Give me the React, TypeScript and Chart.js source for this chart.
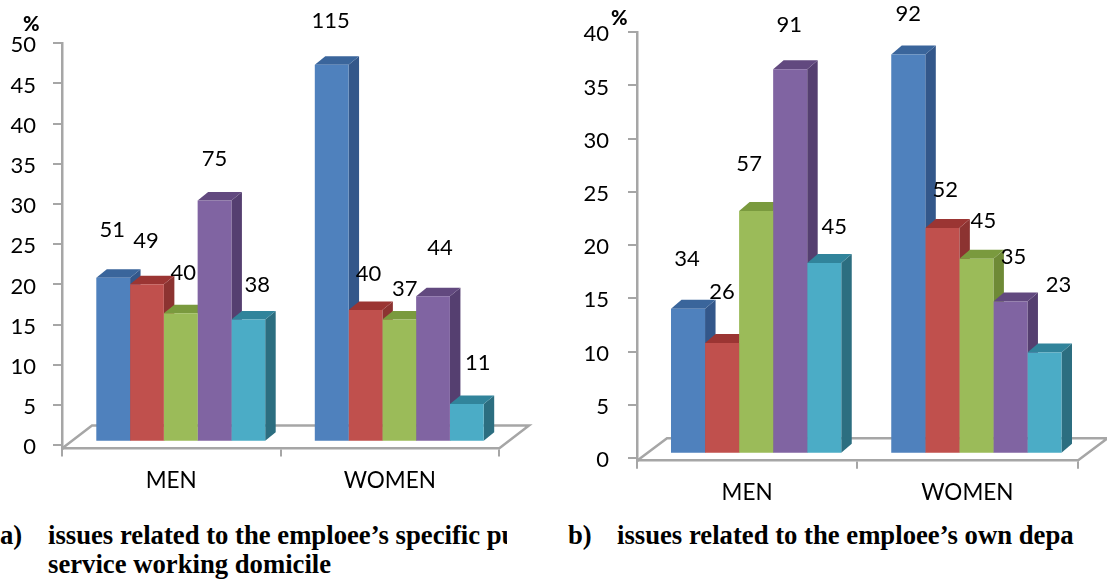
import React, { useEffect, useRef } from "react";
import { Chart, registerables } from "chart.js";

Chart.register(...registerables);

const categories = ["MEN", "WOMEN"];
const yTicksA = [0, 5, 10, 15, 20, 25, 30, 35, 40, 45, 50];
const yTicksB = [0, 5, 10, 15, 20, 25, 30, 35, 40];

const seriesA1 = [20.4, 46.9];
const seriesA2 = [19.6, 16.4];
const seriesA3 = [16.0, 15.2];
const seriesA4 = [30.0, 18.1];
const seriesA5 = [15.2, 4.7];

const seriesB1 = [13.6, 37.5];
const seriesB2 = [10.4, 21.2];
const seriesB3 = [22.8, 18.3];
const seriesB4 = [36.1, 14.3];
const seriesB5 = [17.9, 9.5];

const countsA = [[51, 115], [49, 40], [40, 37], [75, 44], [38, 11]];
const countsB = [[34, 92], [26, 52], [57, 45], [91, 35], [45, 23]];

const frontColors = ["#4f81bd", "#c0504d", "#9bbb59", "#8064a2", "#4bacc6"];
const topColors = ["#3a659b", "#9b3533", "#7a9a3e", "#62497f", "#31849b"];
const sideColors = ["#33578a", "#8c3331", "#6e8a36", "#553f70", "#2c6e80"];
const GRAY = "#a6a6a6";
const FONT = "Lato";

type Cfg = {
  series: number[][];
  counts: number[][];
  ticks: number[];
  yMin: number;
  yMax: number;
  width: number;
  height: number;
  axisWidth: number;
  padTop: number;
  padRight: number;
  axisBottom: number;
  tickPad: number;
  barShift: [number, number];
  depth: [number, number];
  floor: [number, number];
  labelGap: number;
  nudges: [number, number][][];
};

const cfgA: Cfg = {
  series: [seriesA1, seriesA2, seriesA3, seriesA4, seriesA5],
  counts: countsA,
  ticks: yTicksA,
  yMin: -0.4,
  yMax: 50,
  width: 540,
  height: 520,
  axisWidth: 62,
  padTop: 43.3,
  padRight: 41,
  axisBottom: 448.5,
  tickPad: 17,
  barShift: [9.5, -3.5],
  depth: [10.5, -8.5],
  floor: [30, -23],
  labelGap: 42,
  nudges: [
    [[-1, -6], [-1, -2]],
    [[-1, -1], [3, 6]],
    [[2.5, 2], [5.5, 11]],
    [[0, 0], [7, -6]],
    [[9, 7], [11, 1]],
  ],
};

const cfgB: Cfg = {
  series: [seriesB1, seriesB2, seriesB3, seriesB4, seriesB5],
  counts: countsB,
  ticks: yTicksB,
  yMin: -0.25,
  yMax: 40,
  width: 567,
  height: 520,
  axisWidth: 97,
  padTop: 32,
  padRight: 29.5,
  axisBottom: 460.7,
  tickPad: 19,
  barShift: [9, -4.4],
  depth: [10.5, -9],
  floor: [30, -22.5],
  labelGap: 42,
  nudges: [
    [[-1, -8], [0, 1]],
    [[0, -9], [3, 4]],
    [[-7, -5], [7, 4]],
    [[-1, -2], [3, -2]],
    [[10, 6], [14, -26]],
  ],
};

function poly(ctx: CanvasRenderingContext2D, pts: number[][], fill: string) {
  ctx.beginPath();
  pts.forEach(([x, y], i) => (i ? ctx.lineTo(x, y) : ctx.moveTo(x, y)));
  ctx.closePath();
  ctx.fillStyle = fill;
  ctx.fill();
}

function makePlugin(cfg: Cfg) {
  return {
    id: "threeD",
    // floor, then the sides and tops left to right; the library paints the fronts over them afterwards
    beforeDatasetsDraw(chart: any) {
      const { ctx, chartArea: a } = chart;
      const [fx, fy] = cfg.floor;
      const [sx, sy] = cfg.barShift;
      const [dx, dy] = cfg.depth;
      ctx.save();
      ctx.strokeStyle = GRAY;
      ctx.lineWidth = 2.5;
      ctx.beginPath();
      ctx.moveTo(a.left, a.bottom);
      ctx.lineTo(a.left + fx, a.bottom + fy);
      ctx.lineTo(a.right + fx, a.bottom + fy);
      ctx.lineTo(a.right, a.bottom);
      ctx.stroke();
      ctx.translate(sx, sy);
      cfg.series.forEach((_, ds) => {
        chart.getDatasetMeta(ds).data.forEach((el: any) => {
          const { x, y, base, width } = el.getProps(["x", "y", "base", "width"], true);
          const l = x - width / 2;
          const r = x + width / 2;
          poly(ctx, [[r, y], [r + dx, y + dy], [r + dx, base + dy], [r, base]], sideColors[ds]);
          poly(ctx, [[l, y], [l + dx, y + dy], [r + dx, y + dy], [r, y]], topColors[ds]);
        });
      });
      ctx.restore();
    },
    beforeDatasetDraw(chart: any) {
      chart.ctx.save();
      chart.ctx.translate(cfg.barShift[0], cfg.barShift[1]);
    },
    afterDatasetDraw(chart: any) {
      chart.ctx.restore();
    },
    afterDraw(chart: any) {
      const { ctx } = chart;
      const [sx, sy] = cfg.barShift;
      ctx.save();
      ctx.fillStyle = "#000";
      ctx.font = `22px ${FONT}`;
      ctx.textAlign = "center";
      ctx.textBaseline = "middle";
      cfg.counts.forEach((row, ds) => {
        const meta = chart.getDatasetMeta(ds);
        row.forEach((count, i) => {
          const el = meta.data[i];
          const [nx, ny] = cfg.nudges[ds][i];
          ctx.fillText(String(count), el.x + sx + nx, el.y + sy - cfg.labelGap + ny);
        });
      });
      ctx.restore();
    },
  };
}

function BarChart({ cfg, left }: { cfg: Cfg; left: number }) {
  const ref = useRef<HTMLCanvasElement>(null);
  useEffect(() => {
    const chart = new Chart(ref.current!, {
      type: "bar",
      data: {
        labels: categories,
        datasets: cfg.series.map((data, i) => ({
          data,
          backgroundColor: frontColors[i],
          borderWidth: 0,
          clip: false as any,
          categoryPercentage: 0.773,
          barPercentage: 1,
        })),
      },
      options: {
        animation: false,
        responsive: false,
        layout: {
          autoPadding: false,
          padding: { top: cfg.padTop, right: cfg.padRight, left: 0, bottom: 0 },
        },
        plugins: { legend: { display: false }, tooltip: { enabled: false } },
        scales: {
          x: {
            afterFit: (s: any) => {
              s.height = cfg.height - cfg.axisBottom;
            },
            border: { color: GRAY, width: 2.5 },
            grid: { drawOnChartArea: false, color: GRAY, tickLength: 8, lineWidth: 2 },
            ticks: { color: "#000", font: { family: FONT, size: 22.5 }, padding: 11, maxRotation: 0 },
          },
          y: {
            min: cfg.yMin,
            max: cfg.yMax,
            afterFit: (s: any) => {
              s.width = cfg.axisWidth;
            },
            afterBuildTicks: (s: any) => {
              s.ticks = cfg.ticks.map((value) => ({ value }));
            },
            border: { color: GRAY, width: 2.5 },
            grid: { drawOnChartArea: false, color: GRAY, tickLength: 9, lineWidth: 2 },
            ticks: {
              color: "#000",
              font: { family: FONT, size: 22 },
              padding: cfg.tickPad,
              autoSkip: false,
              labelOffset: 2,
            },
          },
        },
      },
      plugins: [makePlugin(cfg)],
    } as any);
    return () => chart.destroy();
  }, [cfg]);
  return (
    <canvas
      ref={ref}
      width={cfg.width}
      height={cfg.height}
      style={{ position: "absolute", left, top: 0, width: cfg.width, height: cfg.height }}
    />
  );
}

const textStyle: React.CSSProperties = {
  position: "absolute",
  whiteSpace: "pre",
  fontFamily: "'Liberation Serif'",
  fontWeight: 700,
  fontSize: 26.7,
  lineHeight: "29px",
  color: "#000",
};
const pctStyle: React.CSSProperties = {
  position: "absolute",
  fontFamily: FONT,
  fontWeight: 900,
  fontSize: 20,
  lineHeight: "20px",
  color: "#000",
};

export default function App() {
  useEffect(() => {
    document.body.style.margin = "0";
  }, []);
  return (
    <div style={{ position: "relative", width: 1107, height: 581, overflow: "hidden", background: "#fff" }}>
      <BarChart cfg={cfgA} left={0} />
      <BarChart cfg={cfgB} left={540} />
      <span style={{ ...pctStyle, left: 23, top: 13 }}>%</span>
      <span style={{ ...pctStyle, left: 611, top: 7 }}>%</span>
      <div style={{ ...textStyle, left: 0, top: 521 }}>a)</div>
      <div style={{ ...textStyle, left: 48, top: 521, width: 459, overflow: "hidden" }}>
        issues related to the emploee’s specific public
      </div>
      <div style={{ ...textStyle, left: 48, top: 550 }}>service working domicile</div>
      <div style={{ ...textStyle, left: 568, top: 521 }}>b)</div>
      <div style={{ ...textStyle, left: 617, top: 521, width: 457, overflow: "hidden" }}>
        issues related to the emploee’s own department
      </div>
    </div>
  );
}
